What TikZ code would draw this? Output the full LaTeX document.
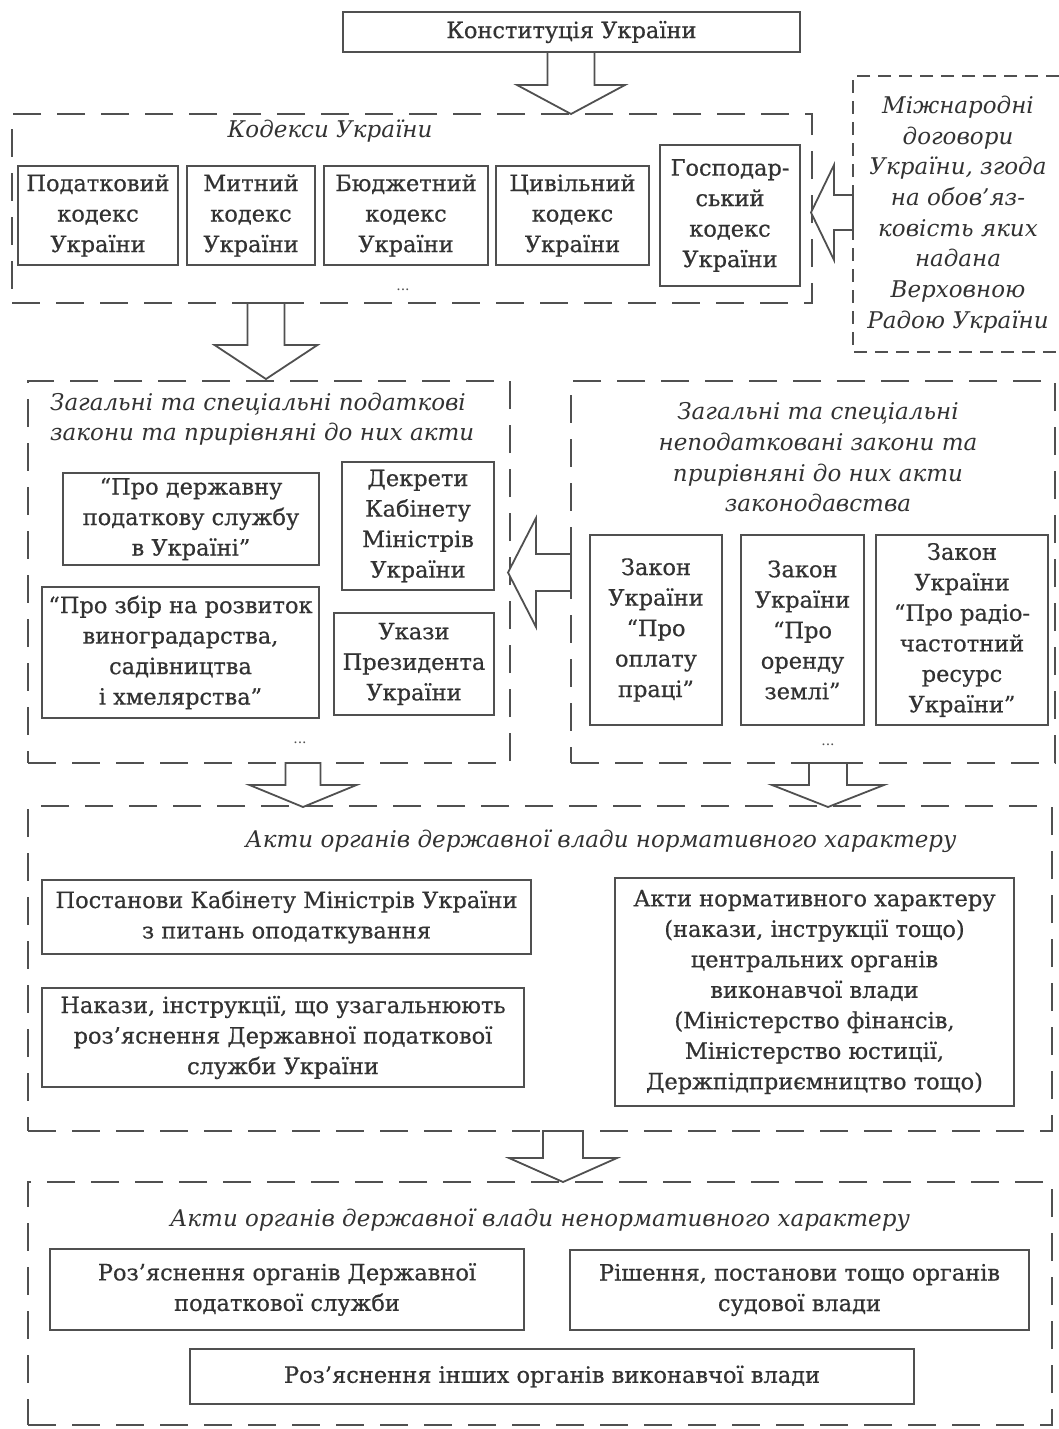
\documentclass[tikz,border=0pt]{standalone}
\usepackage{fontspec}
\setmainfont{DejaVu Serif}
\newfontfamily\heavyfam{DejaVu Serif}[FakeBold=0.6]
\usetikzlibrary{calc}
\definecolor{ink}{RGB}{50,50,50}
\definecolor{edge}{RGB}{80,80,80}
\newcommand\boxfont{\heavyfam\fontsize{22.5}{30.5}\selectfont}
\newcommand\titfont{\fontsize{23}{30.7}\selectfont\itshape}
\newcommand\darrow[6]{% cx, ytop, yhead, ytip, shaft half, head half
  \draw[blockarr] ({#1-#5},#2) -- ({#1-#5},#3) -- ({#1-#6},#3) -- (#1,#4) -- ({#1+#6},#3) -- ({#1+#5},#3) -- ({#1+#5},#2) -- cycle;}
\newcommand\larrow[6]{% xtip, ytip(center), xhead, xend, shaft half, head half
  \draw[blockarr] (#1,#2) -- (#3,{#2-#6}) -- (#3,{#2-#5}) -- (#4,{#2-#5}) -- (#4,{#2+#5}) -- (#3,{#2+#5}) -- (#3,{#2+#6}) -- cycle;}
\begin{document}
\begin{tikzpicture}[x=1pt,y=-1pt,
  box/.style={draw=edge, line width=1.8pt, align=center, inner sep=0pt, text=ink, font=\boxfont},
  dbox/.style={draw=edge, line width=2.2pt, dash pattern=on 28pt off 16pt, inner sep=0pt},
  tdash/.style={draw=edge, line width=2pt, dash pattern=on 13pt off 8pt},
  tit/.style={align=center, inner sep=0pt, text=ink, font=\titfont},
  dots/.style={inner sep=0pt, text=edge, font=\fontsize{14}{14}\selectfont},
  blockarr/.style={draw=edge, line width=1.8pt, fill=white, line join=miter}
]
\useasboundingbox (0,0) rectangle (1059,1429);

% containers
\node[dbox, minimum width=800, minimum height=189] (kod) at (412,208.5) {};
\node[dbox, minimum width=482, minimum height=382] (lgrp) at (269,572) {};
\node[dbox, minimum width=484, minimum height=382] (rgrp) at (813,572) {};
\node[dbox, minimum width=1024, minimum height=325] (norm) at (540,968.5) {};
\node[dbox, minimum width=1024, minimum height=243] (nonn) at (540,1303.5) {};
\coordinate (tTL) at (1059,76);
\coordinate (tL1) at (853,76);
\coordinate (tL2) at (853,352);
\coordinate (tBR) at (1059,352);
\draw[tdash] (tTL) -- (tL1) -- (tL2) -- (tBR);

% top
\node[box, minimum width=457, minimum height=40] (const) at (571.5,32) {Конституція України};

% codes
\node[tit] (kodt) at (330,131) {Кодекси України};
\node[box, minimum width=160, minimum height=99] (c1) at (98,215.5) {Податковий\\кодекс\\України};
\node[box, minimum width=128, minimum height=99] (c2) at (251,215.5) {Митний\\кодекс\\України};
\node[box, minimum width=164, minimum height=99] (c3) at (406,215.5) {Бюджетний\\кодекс\\України};
\node[box, minimum width=153, minimum height=99] (c4) at (572.5,215.5) {Цивільний\\кодекс\\України};
\node[box, minimum width=140, minimum height=141] (c5) at (730,215.5) {Господар-\\ський\\кодекс\\України};
\node[dots] (d1) at (403,290) {...};

% treaties
\node[tit] (treaty) at (958,214.5) {Міжнародні\\договори\\України, згода\\на обов’яз-\\ковість яких\\надана\\Верховною\\Радою України};

% left group
\node[tit, align=left, anchor=west] (lt) at (50,419) {Загальні та спеціальні податкові\\закони та прирівняні до них акти};
\node[box, minimum width=256, minimum height=92] (l1) at (191,519) {“Про державну\\податкову службу\\в Україні”};
\node[box, minimum width=277, minimum height=131] (l2) at (180.5,652.5) {“Про збір на розвиток\\виноградарства,\\садівництва\\і хмелярства”};
\node[box, minimum width=152, minimum height=128] (l3) at (418,526) {Декрети\\Кабінету\\Міністрів\\України};
\node[box, minimum width=160, minimum height=102] (l4) at (414,664) {Укази\\Президента\\України};
\node[dots] (d2) at (300,743) {...};

% right group
\node[tit] (rt) at (818,457.5) {Загальні та спеціальні\\неподатковані закони та\\прирівняні до них акти\\законодавства};
\node[box, minimum width=132, minimum height=190] (r1) at (656,630) {Закон\\України\\“Про\\оплату\\праці”};
\node[box, minimum width=123, minimum height=190] (r2) at (802.5,630) {Закон\\України\\“Про\\оренду\\землі”};
\node[box, minimum width=172, minimum height=190] (r3) at (962,630) {Закон\\України\\“Про радіо-\\частотний\\ресурс\\України”};
\node[dots] (d3) at (828,745) {...};

% normative
\node[tit] (nt) at (601,841) {Акти органів державної влади нормативного характеру};
\node[box, minimum width=489, minimum height=74] (n1) at (286.5,917) {Постанови Кабінету Міністрів України\\з питань оподаткування};
\node[box, minimum width=482, minimum height=99] (n2) at (283,1037.5) {Накази, інструкції, що узагальнюють\\роз’яснення Державної податкової\\служби України};
\node[box, minimum width=399, minimum height=228] (n3) at (814.5,992) {Акти нормативного характеру\\(накази, інструкції тощо)\\центральних органів\\виконавчої влади\\(Міністерство фінансів,\\Міністерство юстиції,\\Держпідприємництво тощо)};

% non-normative
\node[tit] (mt) at (540,1220) {Акти органів державної влади ненормативного характеру};
\node[box, minimum width=474, minimum height=81] (m1) at (287,1289.5) {Роз’яснення органів Державної\\податкової служби};
\node[box, minimum width=459, minimum height=80] (m2) at (799.5,1290) {Рішення, постанови тощо органів\\судової влади};
\node[box, minimum width=724, minimum height=55] (m3) at (552,1376.5) {Роз’яснення інших органів виконавчої влади};

% block arrows
\darrow{571}{52}{85}{114}{23.5}{54}
\darrow{266}{303}{345}{379}{18.5}{51.5}
\darrow{303}{763}{785}{807}{17.5}{53.5}
\darrow{828}{763}{785}{807}{19}{56}
\darrow{563}{1131}{1158}{1182}{20}{54}
\larrow{508}{572.5}{536}{571}{18.5}{54.5}
\larrow{811}{212.5}{834}{853}{17.5}{47.5}
\end{tikzpicture}
\end{document}
